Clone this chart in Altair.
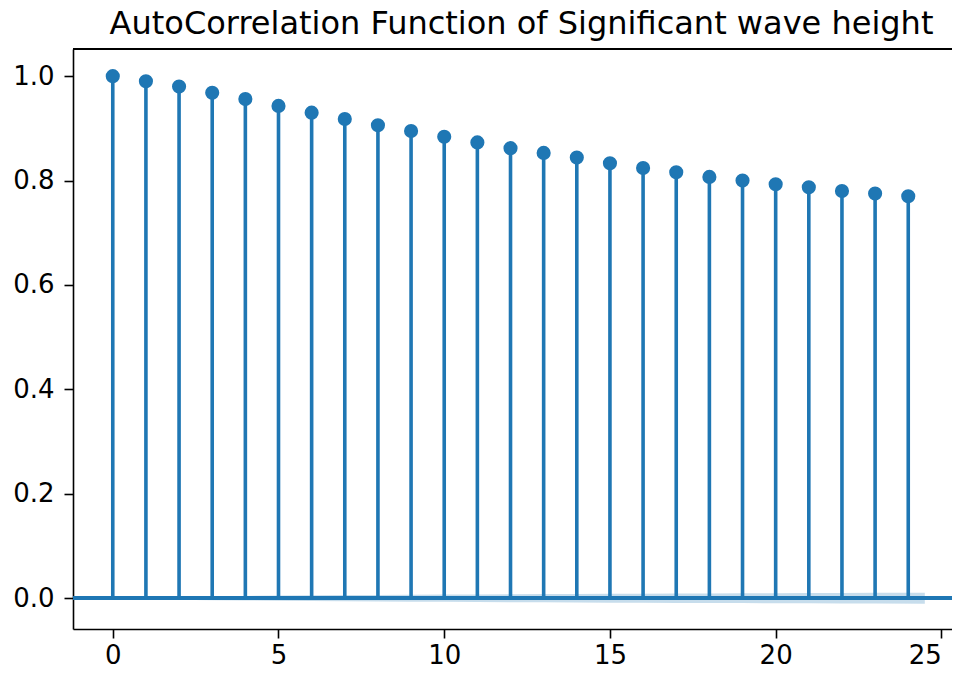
import altair as alt
import pandas as pd

lags = list(range(25))
acf = [1.000, 0.990, 0.980, 0.968, 0.956, 0.943, 0.930, 0.918, 0.906, 0.895,
       0.884, 0.873, 0.862, 0.853, 0.844, 0.833, 0.824, 0.816, 0.807, 0.800,
       0.793, 0.787, 0.780, 0.775, 0.770]

band_x = [-0.5] + list(range(1, 24)) + [24.5]
band_half = [0.0, 0.0017, 0.0029, 0.0038, 0.0044, 0.0050, 0.0055, 0.0059, 0.0063,
             0.0067, 0.0070, 0.0073, 0.0077, 0.0079, 0.0082, 0.0085, 0.0087, 0.0090,
             0.0092, 0.0094, 0.0096, 0.0098, 0.0100, 0.0102, 0.0104]

x_ticks = [0, 5, 10, 15, 20, 25]
y_ticks = [0.0, 0.2, 0.4, 0.6, 0.8, 1.0]

BLUE = "#1f77b4"
FONT = "DejaVu Sans"

df = pd.DataFrame({"lag": lags, "acf": acf, "zero": [0.0] * len(lags)})
band = pd.DataFrame({"x": band_x,
                     "lo": [-h for h in band_half],
                     "hi": band_half})

xscale = alt.Scale(domain=[-1.2, 25.32], nice=False, zero=False)
yscale = alt.Scale(domain=[-0.059, 1.052], nice=False, zero=False)

xaxis = alt.Axis(values=x_ticks, title=None, grid=False, format="d",
                 tickSize=9, tickWidth=1.6, tickColor="black",
                 domainColor="black", domainWidth=1.6,
                 labelFont=FONT, labelFontSize=26, labelColor="black",
                 labelPadding=4, labelFlush=15)
yaxis = alt.Axis(values=y_ticks, title=None, grid=False, format=".1f",
                 tickSize=9, tickWidth=1.6, tickColor="black",
                 domainColor="black", domainWidth=1.6,
                 labelFont=FONT, labelFontSize=26, labelColor="black",
                 labelPadding=10)

area = alt.Chart(band).mark_area(color=BLUE, opacity=0.25).encode(
    x=alt.X("x:Q", scale=xscale, axis=xaxis),
    y=alt.Y("lo:Q", scale=yscale, axis=yaxis),
    y2="hi:Q",
)

zero_line = alt.Chart(df).mark_rule(color=BLUE, strokeWidth=3.4).encode(
    y=alt.datum(0, scale=yscale)
)

top_spine = alt.Chart(df).mark_rule(color="black", strokeWidth=1.6).encode(
    y=alt.value(0)
)

stems = alt.Chart(df).mark_rule(color=BLUE, strokeWidth=3.6).encode(
    x=alt.X("lag:Q", scale=xscale),
    y=alt.Y("zero:Q", scale=yscale),
    y2="acf:Q",
)

points = alt.Chart(df).mark_circle(color=BLUE, opacity=1, size=200).encode(
    x=alt.X("lag:Q", scale=xscale),
    y=alt.Y("acf:Q", scale=yscale),
)

chart = alt.layer(area, zero_line, stems, points, top_spine).properties(
    width=879,
    height=580,
    title=alt.TitleParams(
        "AutoCorrelation Function of Significant wave height",
        font=FONT, fontSize=32, fontWeight="normal", color="black",
        anchor="middle", dx=9, offset=7,
    ),
    autosize=alt.AutoSizeParams(type="none"),
    padding={"left": 65, "top": 41, "right": 0, "bottom": 41},
).configure_view(stroke=None)

chart.save("out.html", embed_options={"renderer": "svg", "actions": False})
